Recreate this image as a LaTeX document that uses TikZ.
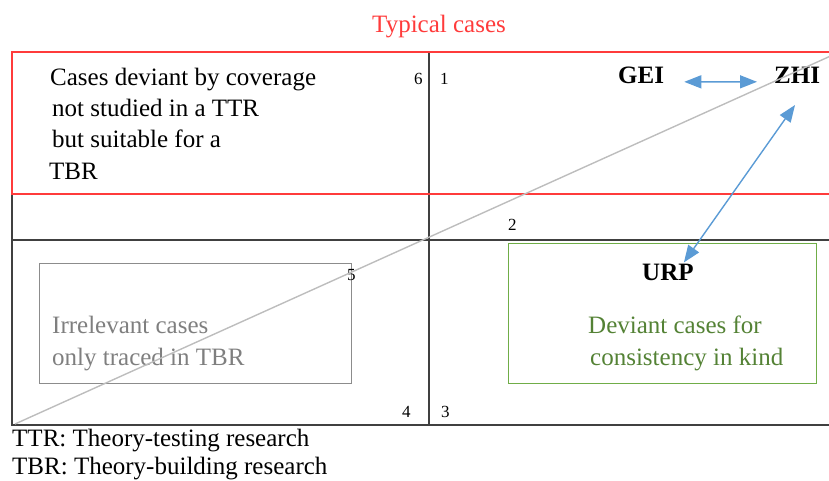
\documentclass[tikz,border=0pt]{standalone}
\usepackage{fontspec}
\setmainfont{Liberation Serif}
\usetikzlibrary{arrows.meta}

\definecolor{frameRed}{HTML}{FF3B3B}
\definecolor{frameDark}{HTML}{404040}
\definecolor{diagGrey}{HTML}{BDBDBD}
\definecolor{boxGrey}{HTML}{8C8C8C}
\definecolor{txtGrey}{HTML}{7F7F7F}
\definecolor{boxGreen}{HTML}{70AD47}
\definecolor{txtGreen}{HTML}{548235}
\definecolor{arrowBlue}{HTML}{5B9BD5}

\tikzset{
  every node/.style={inner sep=0pt},
  txt/.style={anchor=base west, font=\fontsize{25}{28}\selectfont},
  boldtxt/.style={anchor=base west, font=\fontsize{25}{28}\selectfont\bfseries},
  num/.style={anchor=base west, font=\fontsize{17}{20}\selectfont},
  redline/.style={draw=frameRed, line width=1.6pt},
  darkline/.style={draw=frameDark, line width=1.8pt},
  diagline/.style={draw=diagGrey, line width=1.4pt},
  casebox/.style={draw, anchor=north west, line width=1.3pt},
  bluearrow/.style={draw=arrowBlue, line width=1.4pt,
    {Triangle[length=17pt,width=13pt]}-{Triangle[length=17pt,width=13pt]}},
}

\begin{document}
\begin{tikzpicture}[x=1pt,y=-1pt]
\useasboundingbox (0,0) rectangle (829,480);

% corner points of the quadrant frame
\coordinate (tl) at (12,52);
\coordinate (tr) at (835,52);
\coordinate (redL) at (12,194);
\coordinate (redR) at (835,194);
\coordinate (midL) at (12,240);
\coordinate (midR) at (835,240);
\coordinate (bl) at (12,425);
\coordinate (br) at (835,425);
\coordinate (vTop) at (429,52);
\coordinate (vBot) at (429,425);

% case boxes
\node[casebox, draw=boxGrey, minimum width=312pt, minimum height=120pt] (irrBox) at (39,263) {};
\node[casebox, draw=boxGreen, minimum width=308pt, minimum height=140pt] (kindBox) at (508,243) {};

% quadrant frame
\draw[darkline] (redL) -- (bl) -- (br);
\draw[darkline] (midL) -- (midR);
\draw[darkline] (vTop) -- (vBot);
\draw[redline] (tr) -- (tl) -- (redL) -- (redR);

% title
\node[txt, text=frameRed] (title) at (372,32) {Typical cases};

% upper-left description
\node[txt] (cov1) at (50,85) {Cases deviant by coverage};
\node[txt] (cov2) at (52,116) {not studied in a TTR};
\node[txt] (cov3) at (52,147) {but suitable for a};
\node[txt] (cov4) at (49,179) {TBR};

% region numbers
\node[num] (n6) at (414,84) {6};
\node[num] (n1) at (440,84) {1};
\node[num] (n2) at (508,230) {2};
\node[num] (n5) at (347,280) {5};
\node[num] (n4) at (402,417) {4};
\node[num] (n3) at (441,417) {3};

% cases
\node[boldtxt] (gei) at (618,83) {GEI};
\node[boldtxt] (zhi) at (774,83) {ZHI};
\node[boldtxt] (urp) at (642,280) {URP};

\node[txt, text=txtGrey] (irr1) at (52,333) {Irrelevant cases};
\node[txt, text=txtGrey] (irr2) at (52,365) {only traced in TBR};

\node[txt, text=txtGreen] (kind1) at (588,333) {Deviant cases for};
\node[txt, text=txtGreen] (kind2) at (590,365) {consistency in kind};

% diagonal
\coordinate (diagLo) at (15,424);
\coordinate (diagHi) at (835,54);
\draw[diagline] (diagLo) -- (diagHi);

% relations between cases
\coordinate (geiEnd) at ([xshift=20pt,yshift=-7pt]gei.east);
\coordinate (zhiEnd) at ([xshift=-17pt,yshift=-7pt]zhi.west);
\draw[bluearrow] (geiEnd) -- (zhiEnd);

\coordinate (urpEnd) at ([xshift=16pt,yshift=1pt]urp.north);
\coordinate (zhiLow) at (795,105);
\draw[bluearrow] (urpEnd) -- (zhiLow);

% legend
\node[txt] (leg1) at (12,446) {TTR: Theory-testing research};
\node[txt] (leg2) at (12,474) {TBR: Theory-building research};
\end{tikzpicture}
\end{document}
